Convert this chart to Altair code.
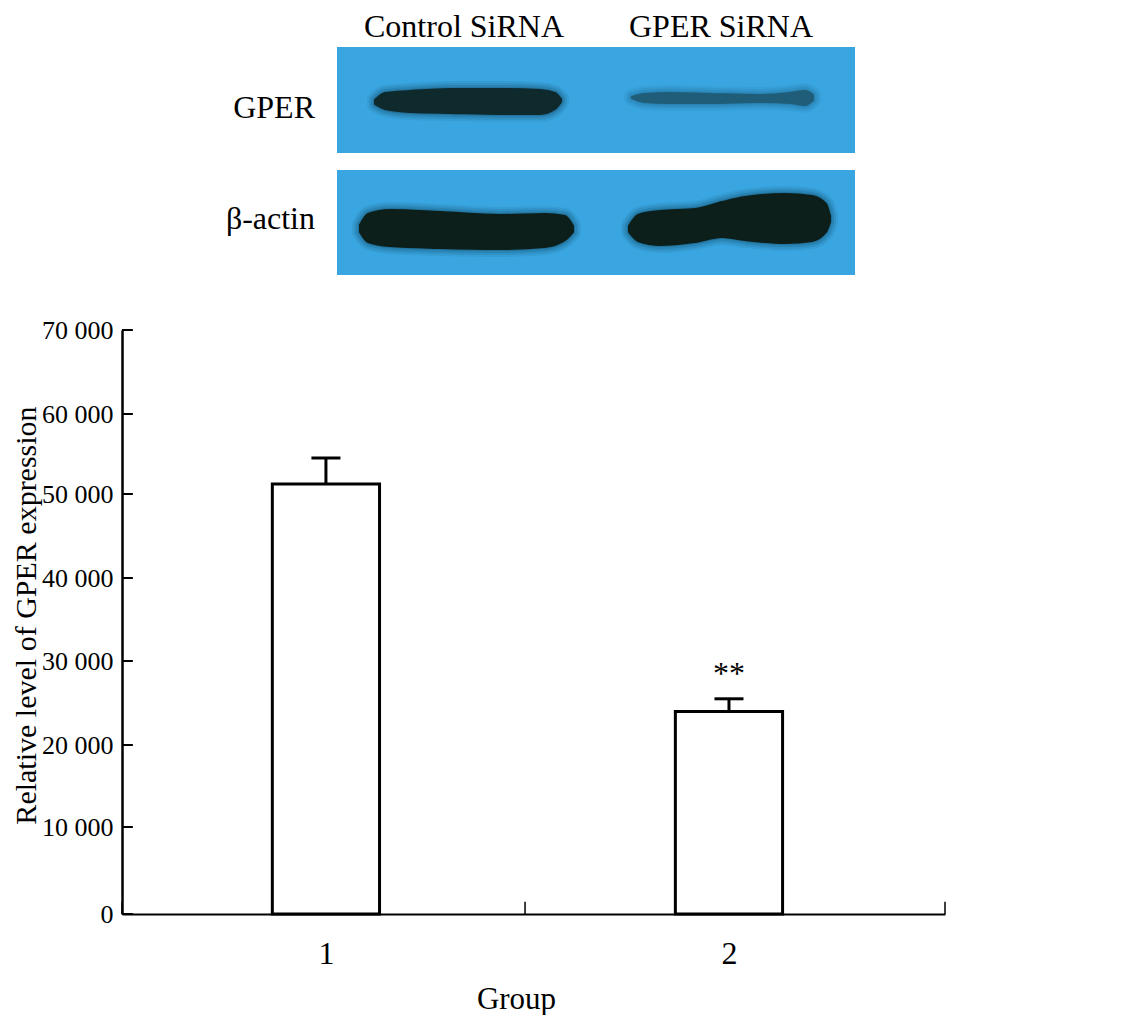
import altair as alt
import pandas as pd

FONT = "Liberation Serif"

# Bar chart values
groups = [1, 2]
means = [51250, 24000]
upper = [54500, 25500]
half_bar = 0.133
half_cap = 0.036
y_ticks = [0, 10000, 20000, 30000, 40000, 50000, 60000, 70000]
y_range = [584, 497, 415, 331, 248, 164, 84, 0]
x_ticks = [0.494, 1.494, 2.536]

bars = pd.DataFrame({"g": groups, "m": means, "u": upper})
bars["x0"] = bars.g - half_bar
bars["x1"] = bars.g + half_bar
bars["c0"] = bars.g - half_cap
bars["c1"] = bars.g + half_cap

x_scale = alt.Scale(domain=[x_ticks[0], x_ticks[-1]], nice=False, zero=False)
y_scale = alt.Scale(domain=y_ticks, range=y_range, nice=False, zero=False)

x_axis = alt.Axis(values=groups, tickSize=0, labelFont=FONT, labelFontSize=32, labelColor="black",
                  labelPadding=24, labelAngle=0, grid=False, domainColor="black", domainWidth=2,
                  title="Group", titleFont=FONT, titleFontSize=31, titleFontWeight="normal", titleColor="black",
                  titleX=394, titleY=94, titleBaseline="alphabetic", format="d")
y_axis = alt.Axis(values=y_ticks, tickSize=0, labelFont=FONT, labelFontSize=26, labelColor="black",
                  labelPadding=9, grid=False, domainColor="black", domainWidth=2.5,
                  labelExpr="replace(format(datum.value, ','), ',', ' ')",
                  title="Relative level of GPER expression", titleFont=FONT, titleFontSize=30,
                  titleFontWeight="normal", titleColor="black", titleX=-87, titleY=285,
                  titleBaseline="alphabetic")

base = alt.Chart(bars)
bar_layer = base.mark_bar(fill="white", stroke="black", strokeWidth=3).encode(
    x=alt.X("x0:Q", scale=x_scale, axis=x_axis),
    x2="x1:Q",
    y=alt.Y("m:Q", scale=y_scale, axis=y_axis),
    y2=alt.datum(0),
)
err = base.mark_rule(color="black", strokeWidth=3).encode(
    x=alt.X("g:Q", scale=x_scale), y=alt.Y("m:Q", scale=y_scale), y2="u:Q")
cap = base.mark_rule(color="black", strokeWidth=3).encode(
    x=alt.X("c0:Q", scale=x_scale), x2="c1:Q", y=alt.Y("u:Q", scale=y_scale))
star = alt.Chart(pd.DataFrame({"g": [2], "v": [28500], "t": ["**"]})).mark_text(
    font=FONT, fontSize=32, baseline="middle", color="black").encode(
    x=alt.X("g:Q", scale=x_scale), y=alt.Y("v:Q", scale=y_scale), text="t:N")

ytick_df = pd.DataFrame({"v": y_ticks, "a": x_ticks[0], "b": x_ticks[0] + 0.027})
ytick = alt.Chart(ytick_df).mark_rule(color="black", strokeWidth=2).encode(
    x=alt.X("a:Q", scale=x_scale), x2="b:Q", y=alt.Y("v:Q", scale=y_scale))
xtick_df = pd.DataFrame({"x": x_ticks, "a": 0, "b": 1400})
xtick = alt.Chart(xtick_df).mark_rule(color="black", strokeWidth=1.5).encode(
    x=alt.X("x:Q", scale=x_scale), y=alt.Y("a:Q", scale=y_scale), y2="b:Q")

plot = alt.layer(bar_layer, err, cap, star, ytick, xtick)

# Blot panels, in picture units
panel_x0 = [337, 337]
panel_x1 = [855, 855]
panel_y0 = [47, 170]
panel_y1 = [153, 275]
bg_color = "#3aa6e1"

band_names = ["g1", "g2", "a1", "a2"]
band_colors = ["#0f2a2c", "#1f5d78", "#0c1f1a", "#0c1f1a"]
halo_colors = ["#14506e", "#1f6c94", "#12506e", "#12506e"]
band_x = [
    [375, 385, 410, 450, 500, 540, 555, 561],
    [632, 645, 670, 710, 760, 790, 805, 813],
    [360, 368, 390, 440, 500, 545, 565, 573],
    [629, 638, 660, 695, 722, 745, 785, 812, 826, 830],
]
band_top = [
    [100, 93, 91, 89, 89, 90, 93, 99],
    [97, 94, 93, 94, 95, 93, 91, 95],
    [225, 214, 210, 212, 215, 214, 216, 226],
    [226, 215, 211, 209, 202, 197, 194, 196, 204, 216],
]
band_bot = [
    [104, 109, 112, 113, 114, 114, 109, 102],
    [98, 102, 103, 103, 102, 103, 105, 100],
    [232, 242, 246, 248, 249, 247, 240, 232],
    [232, 241, 245, 242, 237, 240, 243, 241, 232, 222],
]
rows = []
for n, xs, ts, bs in zip(band_names, band_x, band_top, band_bot):
    rows += [{"band": n, "x": a, "t": b, "b": c} for a, b, c in zip(xs, ts, bs)]
bands = pd.DataFrame(rows)

fig_x = alt.Scale(domain=[122, 945], nice=False, zero=False)
fig_y = alt.Scale(domain=[914, 330], nice=False, zero=False)

panels = alt.Chart(pd.DataFrame({"a": panel_x0, "b": panel_x1, "c": panel_y0, "d": panel_y1})).mark_rect(
    color=bg_color).encode(
    x=alt.X("a:Q", scale=fig_x, axis=None), x2="b:Q",
    y=alt.Y("c:Q", scale=fig_y, axis=None), y2="d:Q")

band_layers = []
for n, col, halo in zip(band_names, band_colors, halo_colors):
    d = bands[bands.band == n]
    enc = dict(x=alt.X("x:Q", scale=fig_x, axis=None), y=alt.Y("t:Q", scale=fig_y, axis=None), y2="b:Q")
    for sw, op in [(16, 0.1), (12, 0.14), (8, 0.2), (4, 0.3)]:
        band_layers.append(alt.Chart(d).mark_area(
            interpolate="monotone", color=halo, stroke=halo, strokeWidth=sw, strokeJoin="round",
            opacity=op).encode(**enc))
    band_layers.append(alt.Chart(d).mark_area(interpolate="monotone", color=col, stroke=col,
                                              strokeWidth=2, strokeJoin="round").encode(**enc))

label_text = ["Control SiRNA", "GPER SiRNA", "GPER", "\u03b2-actin"]
label_x = [464, 721, 315, 315]
label_y = [37, 37, 118, 229]
label_align = ["center", "center", "right", "right"]
labels = alt.Chart(pd.DataFrame({"x": label_x, "y": label_y, "t": label_text, "al": label_align}))
label_layers = []
for al in ["center", "right"]:
    label_layers.append(labels.transform_filter(alt.datum.al == al).mark_text(
        font=FONT, fontSize=32, align=al, baseline="alphabetic", color="black").encode(
        x=alt.X("x:Q", scale=fig_x, axis=None), y=alt.Y("y:Q", scale=fig_y, axis=None), text="t:N"))

blot = alt.layer(panels, *band_layers, *label_layers)

chart = alt.layer(plot, blot).resolve_scale(x="independent", y="independent").resolve_axis(
    x="independent", y="independent").properties(
    width=823, height=584,
    autosize="none",
    background="white",
    padding={"left": 114, "top": 322, "right": 170, "bottom": 101},
).configure_view(stroke=None)

chart.save("out.html", embed_options={"renderer": "svg", "actions": False})
